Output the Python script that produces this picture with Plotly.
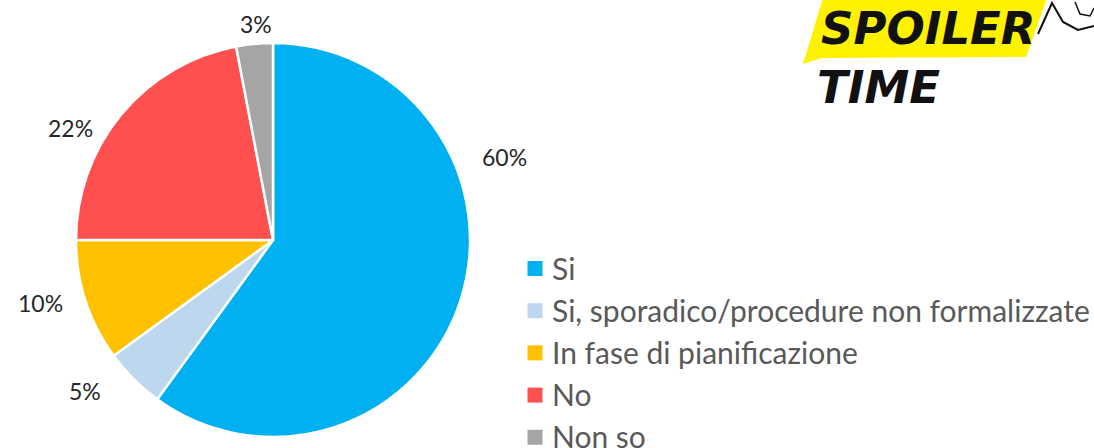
import plotly.graph_objects as go

# ---- data ----
labels = ["Si", "Si, sporadico/procedure non formalizzate", "In fase di pianificazione", "No", "Non so"]
values = [60, 5, 10, 22, 3]
colors = ["#00B0F0", "#BDD7EE", "#FFC000", "#FF5050", "#A5A5A5"]

# ---- layout helpers (page pixels) ----
W, H = 1094, 448
cx, cy, r = 273, 240, 197
label_px = [(504, 154), (85, 388), (40, 300), (70, 125), (256, 21)]
leg_x, leg_y0, leg_dy = 527.5, 268.5, 42.2

def px(x, y):
    return x / W, 1 - y / H

FONT = "Lato, Open Sans, sans-serif"

fig = go.Figure()
dx0, dy0 = px(cx - r, cy + r)
dx1, dy1 = px(cx + r, cy - r)
fig.add_trace(go.Pie(
    labels=labels, values=values, sort=False, direction="clockwise", rotation=0,
    marker=dict(colors=colors, line=dict(color="white", width=2.5)),
    textinfo="none", hoverinfo="label+percent", showlegend=False,
    domain=dict(x=[dx0, dx1], y=[dy0, dy1]),
))

annotations = []
shapes = []
for v, (x, y) in zip(values, label_px):
    ax, ay = px(x, y + 3)
    annotations.append(dict(x=ax, y=ay, xref="paper", yref="paper", text=f"{v}%",
                            xanchor="center", yanchor="middle",
                            showarrow=False, font=dict(size=23, color="#262626", family=FONT)))

# legend built from categories
for i, (lab, col) in enumerate(zip(labels, colors)):
    yc = leg_y0 + i * leg_dy
    x0, y0 = px(leg_x, yc + 7.5)
    x1, y1 = px(leg_x + 15, yc - 7.5)
    shapes.append(dict(type="rect", xref="paper", yref="paper", x0=x0, y0=y0, x1=x1, y1=y1,
                       fillcolor=col, line=dict(width=0)))
    tx, ty = px(550, yc - 1)
    annotations.append(dict(x=tx, y=ty, xref="paper", yref="paper", text=lab,
                            xanchor="left", yanchor="middle",
                            showarrow=False, font=dict(size=30, color="#595959", family=FONT)))

# logo
LOGO_FONT = "DejaVu Sans, Liberation Sans, sans-serif"
lx, ly = px(928, 28)
annotations.append(dict(x=lx, y=ly, xref="paper", yref="paper", text="<b><i>SPOILER</i></b>",
                        xanchor="center", yanchor="middle",
                        showarrow=False, font=dict(size=45, color="#111111", family=LOGO_FONT)))
lx, ly = px(878, 88)
annotations.append(dict(x=lx, y=ly, xref="paper", yref="paper", text="<b><i>TIME</i></b>",
                        xanchor="center", yanchor="middle",
                        showarrow=False, font=dict(size=45, color="#111111", family=LOGO_FONT)))

def mkpath(pts, close=False):
    s = "M " + " L ".join("{},{}".format(*px(x, y)) for x, y in pts)
    return s + (" Z" if close else "")

poly = [(823, -2), (1047, -2), (1026, 57), (822, 58), (803, 64)]
shapes.insert(0, dict(type="path", path=mkpath(poly, True), xref="paper", yref="paper",
                      fillcolor="#FFF200", line=dict(width=0), layer="below"))
shapes.append(dict(type="path", path=mkpath([(1038, 34), (1052, 3), (1063, 22), (1078, 30), (1094, 26)]),
                   xref="paper", yref="paper", line=dict(color="#111111", width=2)))
shapes.append(dict(type="path", path=mkpath([(1075, 2), (1080, 14), (1090, 16), (1094, 8)]),
                   xref="paper", yref="paper", line=dict(color="#111111", width=1.5)))

fig.update_layout(
    width=W, height=H, margin=dict(l=0, r=0, t=0, b=0, autoexpand=False),
    paper_bgcolor="white", plot_bgcolor="white",
    showlegend=False,
    annotations=annotations,
    shapes=shapes,
)

fig.write_html("out.html", config={"displayModeBar": False},
               post_script="document.body.style.margin='0';document.body.style.overflow='hidden';")
